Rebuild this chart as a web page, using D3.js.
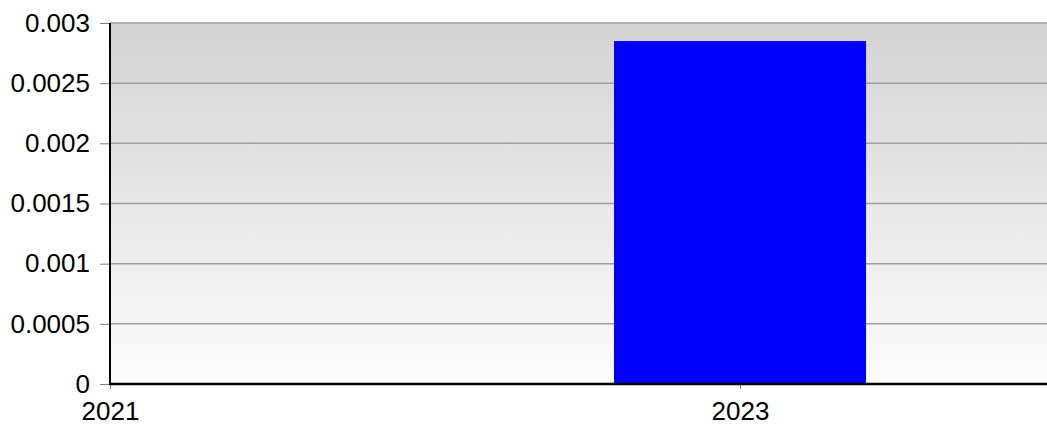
<!DOCTYPE html>
<html><head><meta charset="utf-8">
<script src="https://cdn.jsdelivr.net/npm/d3@7"></script>
<style>body{margin:0;background:#fff}svg{display:block}</style>
</head><body>
<svg id="c" width="1047" height="428"></svg>
<script>
const years = [2021, 2023];
const values = [0, 0.00285];
const xTickLabels = ["2021", "2023"];
const yTicks = [0, 0.0005, 0.001, 0.0015, 0.002, 0.0025, 0.003];
const yTickLabels = ["0", "0.0005", "0.001", "0.0015", "0.002", "0.0025", "0.003"];

const W = 1047, H = 428;
const m = {l: 110, r: 0, t: 23, b: 44};
const svg = d3.select("#c");
const x = d3.scaleLinear().domain([2021, 2021 + 937/315]).range([m.l, W - m.r]);
const y = d3.scaleLinear().domain([0, 0.003]).range([H - m.b, m.t]);

const defs = svg.append("defs");
const g = defs.append("linearGradient").attr("id","bg").attr("x1",0).attr("y1",0).attr("x2",0).attr("y2",1);
g.append("stop").attr("offset","0%").attr("stop-color","#d3d3d3");
g.append("stop").attr("offset","100%").attr("stop-color","#fcfcfc");

svg.append("rect").attr("x", m.l).attr("y", m.t).attr("width", W - m.r - m.l).attr("height", y(0) - m.t).attr("fill","url(#bg)");

// gridlines
svg.append("g").selectAll("line").data(yTicks.filter(d => d > 0)).join("line")
  .attr("x1", m.l).attr("x2", W - m.r).attr("y1", d => y(d)).attr("y2", d => y(d))
  .attr("stroke", "#a0a0a0").attr("stroke-width", 1.5);

// bars
const bw = 0.8 * (x(2022) - x(2021));
svg.append("g").selectAll("rect").data(years.map((yr, i) => ({yr, v: values[i]})).filter(d => d.v > 0)).join("rect")
  .attr("x", d => x(d.yr) - bw/2).attr("width", bw)
  .attr("y", d => y(d.v)).attr("height", d => y(0) - y(d.v))
  .attr("fill", "#0000ff");

const font = "Liberation Sans, Arial, sans-serif";
// y axis
const yAxis = d3.axisLeft(y).tickValues(yTicks).tickFormat((d, i) => yTickLabels[i]).tickSize(10).tickPadding(10);
const ya = svg.append("g").attr("transform", `translate(${m.l},0)`).call(yAxis)
  .attr("font-family", font).attr("font-size", 26);
ya.select(".domain").remove();
ya.selectAll(".tick line").attr("stroke", "#808080").attr("stroke-width", 1);
ya.selectAll("text").attr("fill", "#000");
svg.append("line").attr("x1", m.l).attr("x2", m.l).attr("y1", m.t).attr("y2", y(0) + 1).attr("stroke", "#000").attr("stroke-width", 2);

// x axis
const xAxis = d3.axisBottom(x).tickValues(years).tickFormat((d, i) => xTickLabels[i]).tickSize(5).tickPadding(13);
const xa = svg.append("g").attr("transform", `translate(0,${y(0)})`).call(xAxis)
  .attr("font-family", font).attr("font-size", 26);
xa.select(".domain").remove();
xa.selectAll(".tick line").attr("stroke", "#808080").attr("stroke-width", 1);
xa.selectAll("text").attr("fill", "#000");
svg.append("line").attr("x1", m.l - 1).attr("x2", W).attr("y1", y(0)).attr("y2", y(0)).attr("stroke", "#000").attr("stroke-width", 2.5);
</script>
</body></html>
